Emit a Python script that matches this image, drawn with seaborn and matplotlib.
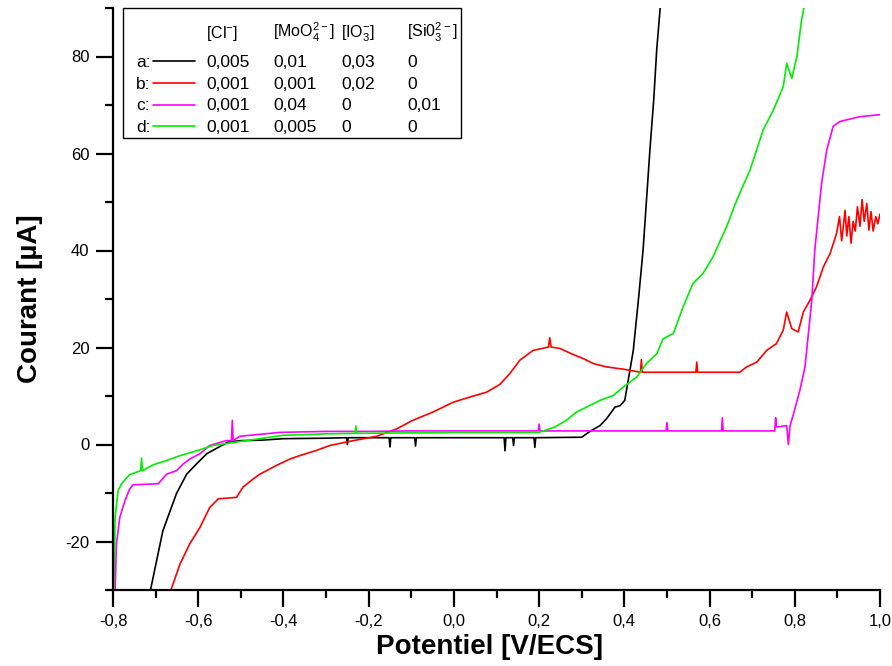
import matplotlib
matplotlib.use("Agg")
import matplotlib.pyplot as plt
import numpy as np
import pandas as pd
import seaborn as sns
from matplotlib.patches import Rectangle
from matplotlib.lines import Line2D
from matplotlib.ticker import MultipleLocator

# ---------------- data ----------------
series_names = ["a", "b", "c", "d"]
series_colors = ["#000000", "#ff0000", "#ff00ff", "#00ee00"]

xa = [-0.712, -0.683, -0.651, -0.627, -0.604, -0.580, -0.553, -0.530, -0.50, -0.45, -0.40, -0.30,
      -0.252, -0.25, -0.248, -0.152, -0.15, -0.148, -0.092, -0.09, -0.088, 0.118, 0.12, 0.122,
      0.138, 0.14, 0.142, 0.188, 0.19, 0.192, 0.30, 0.311, 0.325, 0.343, 0.36, 0.378, 0.39, 0.401,
      0.409, 0.421, 0.433, 0.444, 0.452, 0.460, 0.469, 0.476, 0.486]
ya = [-30, -17.8, -10.1, -6.1, -4.0, -1.9, -0.6, 0.5, 0.8, 0.9, 1.2, 1.3,
      1.4, 0.0, 1.4, 1.4, -0.5, 1.4, 1.4, -0.3, 1.4, 1.4, -1.3, 1.4,
      1.4, -0.2, 1.4, 1.4, -0.6, 1.4, 1.5, 2.2, 3.0, 3.9, 5.5, 7.7, 8.0, 9.1,
      13.2, 19.4, 29.8, 40.1, 50.4, 60.7, 71.1, 81.4, 92]

xb = [-0.664, -0.643, -0.620, -0.596, -0.573, -0.553, -0.510, -0.495, -0.471, -0.455, -0.416,
      -0.385, -0.362, -0.322, -0.291, -0.236, -0.181, -0.135, -0.096, -0.049, -0.002, 0.038,
      0.077, 0.108, 0.131, 0.155, 0.186, 0.222, 0.225, 0.228, 0.249, 0.276, 0.304, 0.327, 0.358,
      0.40, 0.438, 0.44, 0.442, 0.452, 0.55, 0.568, 0.57, 0.572, 0.671, 0.687, 0.711, 0.734,
      0.757, 0.773, 0.781, 0.793, 0.808, 0.820, 0.836, 0.851, 0.867, 0.883, 0.898, 0.905, 0.910,
      0.914, 0.918, 0.922, 0.927, 0.932, 0.937, 0.942, 0.947, 0.953, 0.958, 0.963, 0.969, 0.974,
      0.979, 0.984, 0.990, 0.995, 1.0]
yb = [-30, -24.7, -20.5, -17.1, -13.0, -11.2, -10.9, -8.8, -7.1, -6.1, -4.3,
      -3.0, -2.3, -1.2, -0.2, 0.8, 1.7, 3.2, 5.0, 6.7, 8.7, 9.8,
      10.8, 12.4, 14.6, 17.4, 19.4, 20.1, 22.0, 20.1, 19.8, 18.7, 17.7, 16.7, 16.0,
      15.5, 14.9, 17.5, 14.9, 14.9, 14.9, 14.9, 17.0, 14.9, 14.9, 16.0, 17.0, 19.4,
      20.8, 23.6, 27.3, 23.9, 23.2, 27.3, 29.8, 32.5, 36.6, 39.4, 43.5, 47.0, 42.0,
      45.0, 48.3, 43.0, 47.0, 41.5, 46.0, 44.0, 49.0, 45.0, 50.5, 46.0, 49.7, 44.2,
      48.0, 44.0, 47.0, 45.5, 47.5]

xc = [-0.795, -0.792, -0.784, -0.772, -0.761, -0.753, -0.694, -0.674, -0.651, -0.635, -0.620,
      -0.596, -0.573, -0.534, -0.522, -0.52, -0.518, -0.502, -0.408, -0.3, -0.2, -0.1, 0.0, 0.1,
      0.198, 0.2, 0.202, 0.3, 0.4, 0.498, 0.5, 0.502, 0.6, 0.628, 0.63, 0.632, 0.7, 0.753, 0.755,
      0.757, 0.781, 0.785, 0.789, 0.797, 0.812, 0.824, 0.832, 0.840, 0.847, 0.855, 0.863, 0.875,
      0.890, 0.906, 0.953, 1.0]
yc = [-30, -20.5, -15.0, -11.6, -9.2, -8.3, -8.1, -6.1, -5.4, -4.0, -3.0,
      -1.9, -0.2, 0.8, 0.8, 5.0, 0.8, 1.7, 2.5, 2.7, 2.7, 2.8, 2.8, 2.8,
      2.8, 4.2, 2.8, 2.8, 2.8, 2.8, 4.5, 2.8, 2.8, 2.8, 5.5, 2.8, 2.8, 2.8, 5.5,
      3.6, 3.9, 0.0, 3.9, 6.3, 11.2, 16.0, 22.9, 29.8, 40.1, 47.0, 53.9, 60.7,
      65.6, 66.6, 67.6, 68.0]

xd = [-0.798, -0.795, -0.788, -0.780, -0.761, -0.735, -0.733, -0.731, -0.706, -0.674, -0.643,
      -0.600, -0.565, -0.487, -0.401, -0.3, -0.232, -0.23, -0.228, -0.1, 0.0, 0.1, 0.2, 0.237,
      0.264, 0.288, 0.311, 0.343, 0.374, 0.397, 0.429, 0.452, 0.476, 0.491, 0.515, 0.538, 0.561,
      0.585, 0.608, 0.640, 0.664, 0.695, 0.726, 0.750, 0.773, 0.781, 0.793, 0.805, 0.816, 0.826]
yd = [-30, -15.0, -9.5, -8.1, -6.2, -5.4, -2.8, -5.4, -4.2, -3.3, -2.3,
      -1.2, -0.2, 0.8, 1.9, 2.2, 2.3, 3.8, 2.3, 2.4, 2.5, 2.5, 2.5, 3.6,
      5.0, 6.7, 7.7, 9.1, 10.1, 11.8, 13.9, 16.7, 18.7, 21.8, 22.9, 28.4, 33.2,
      35.3, 38.7, 44.9, 50.4, 56.6, 64.9, 69.0, 73.8, 78.6, 75.5, 80.0, 87.6, 92]

xticks = [-0.8, -0.6, -0.4, -0.2, 0.0, 0.2, 0.4, 0.6, 0.8, 1.0]
xtick_labels = ["-0,8", "-0,6", "-0,4", "-0,2", "0,0", "0,2", "0,4", "0,6", "0,8", "1,0"]
yticks = [-20, 0, 20, 40, 60, 80]
ytick_labels = ["-20", "0", "20", "40", "60", "80"]

legend_ids = ["a:", "b:", "c:", "d:"]
legend_headers = [r"[Cl$^{-}$]", r"[MoO$_4^{2-}$]", r"[IO$_3^{-}$]", r"[Si0$_3^{2-}$]"]
legend_cells = [["0,005", "0,01", "0,03", "0"],
                ["0,001", "0,001", "0,02", "0"],
                ["0,001", "0,04", "0", "0,01"],
                ["0,001", "0,005", "0", "0"]]

# ---------------- style ----------------
sns.set_theme(style="ticks")
plt.rcParams["font.family"] = ["Liberation Sans", "DejaVu Sans"]
plt.rcParams["mathtext.default"] = "regular"
plt.rcParams["text.color"] = "black"
plt.rcParams["axes.labelcolor"] = "black"
plt.rcParams["xtick.color"] = "black"
plt.rcParams["ytick.color"] = "black"

W, H = 892, 666
fig = plt.figure(figsize=(W / 100, H / 100), dpi=100)
fig.patch.set_facecolor("white")
ax = fig.add_axes([113 / W, 76 / H, 767 / W, 582 / H])
ax.set_facecolor("white")

frames = []
for name, xs, ys in zip(series_names, [xa, xb, xc, xd], [ya, yb, yc, yd]):
    frames.append(pd.DataFrame({"E": xs, "I": ys, "serie": name}))
df = pd.concat(frames, ignore_index=True)

sns.lineplot(data=df, x="E", y="I", hue="serie", hue_order=series_names,
             palette=dict(zip(series_names, series_colors)), sort=False,
             estimator=None, legend=False, linewidth=1.2, ax=ax)

ax.set_xlim(-0.8, 1.0)
ax.set_ylim(-30, 90)
ax.set_xticks(xticks)
ax.set_xticklabels(xtick_labels)
ax.set_yticks(yticks)
ax.set_yticklabels(ytick_labels)
ax.xaxis.set_minor_locator(MultipleLocator(0.1))
ax.yaxis.set_minor_locator(MultipleLocator(10))
ax.tick_params(which="major", direction="out", length=12, width=1.6, labelsize=12,
               pad=5, colors="black", labelcolor="black")
ax.tick_params(which="minor", direction="out", length=6, width=1.6, colors="black")
for s in ["top", "right"]:
    ax.spines[s].set_visible(False)
for s in ["left", "bottom"]:
    ax.spines[s].set_linewidth(1.6)
    ax.spines[s].set_color("black")
ax.grid(False)

ax.set_xlabel("Potentiel [V/ECS]", fontsize=20, fontweight="bold", color="black")
ax.set_ylabel("Courant [µA]", fontsize=20, fontweight="bold", color="black")
ax.xaxis.label.set_va("center")
ax.yaxis.label.set_va("center")
ax.xaxis.set_label_coords((489 - 113) / 767, (590 - 647) / 582)
ax.yaxis.set_label_coords((30 - 113) / 767, 0.5)

# ---------------- legend table ----------------
def fx(px):
    return px / W

def fy(py):
    return 1 - py / H

box = Rectangle((fx(123), fy(138)), fx(461) - fx(123), fy(8) - fy(138),
                transform=fig.transFigure, facecolor="white", edgecolor="black",
                linewidth=1.0, zorder=5)
fig.add_artist(box)

col_x = [206, 273, 341, 407]
row_base = [67, 89, 110.5, 132]
head_base = 38
fs = 12.5
for cx, htxt in zip(col_x, legend_headers):
    fig.text(fx(cx), fy(head_base), htxt, fontsize=11.5, ha="left", va="baseline",
             color="black", zorder=6)
for rb, lid, color, cells in zip(row_base, legend_ids, series_colors, legend_cells):
    fig.text(fx(136), fy(rb), lid, fontsize=fs, ha="left", va="baseline", color="black", zorder=6)
    fig.add_artist(Line2D([fx(153), fx(195)], [fy(rb - 6), fy(rb - 6)], color=color,
                          linewidth=1.2, transform=fig.transFigure, zorder=6))
    for cx, c in zip(col_x, cells):
        fig.text(fx(cx), fy(rb), c, fontsize=fs, ha="left", va="baseline", color="black", zorder=6)

fig.savefig("out.png", dpi=100)
